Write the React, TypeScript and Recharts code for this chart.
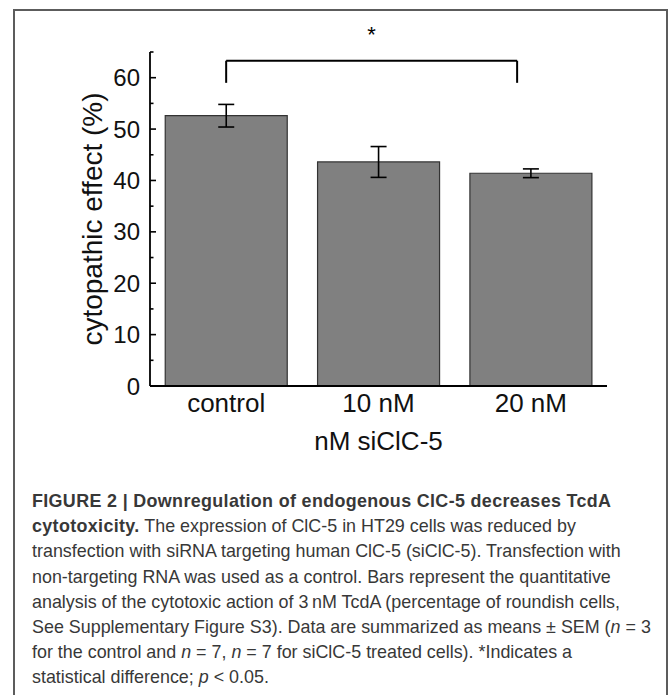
import { Bar, BarChart, ErrorBar, ReferenceLine, XAxis, YAxis } from 'recharts';

const CATEGORIES = ['control', '10 nM', '20 nM'];
const CPE = [52.6, 43.6, 41.4];
const SEM = [2.2, 3.0, 0.85];
const Y_TICKS = [0, 5, 10, 15, 20, 25, 30, 35, 40, 45, 50, 55, 60, 65];
// significance bracket, x in category units (0.5 = centre of first bar)
const BRACKET = { from: 0.5, to: 2.41, top: 63.3, foot: 59.0, mark: '*' };

const data = CATEGORIES.map((name, i) => ({ name, slot: i + 0.5, cpe: CPE[i], sem: SEM[i] }));

const FONT = '"Liberation Sans", Arial, sans-serif';
const MARGIN = { top: 52, right: 62, left: 0, bottom: 0 };
const Y_AXIS_WIDTH = 150;
const AXIS_X = MARGIN.left + Y_AXIS_WIDTH;

function YTick({ y, payload }: { y?: number; payload?: { value: number } }) {
  const v = payload?.value ?? 0;
  const major = v % 10 === 0;
  return (
    <g>
      <line x1={AXIS_X} x2={AXIS_X + (major ? 6 : 3.5)} y1={y} y2={y} stroke="#000" strokeWidth={1.6} />
      {major && (
        <text x={AXIS_X - 10} y={y} dy="0.36em" textAnchor="end" fontSize={24} fill="#111" fontFamily={FONT}>
          {v}
        </text>
      )}
    </g>
  );
}

const CAPTION_LINES = [
  <><b style={{ letterSpacing: 0.35 }}>FIGURE 2 | Downregulation of endogenous ClC-5 decreases TcdA</b></>,
  <><b style={{ letterSpacing: 0.35 }}>cytotoxicity.</b> The expression of ClC-5 in HT29 cells was reduced by</>,
  <>transfection with siRNA targeting human ClC-5 (siClC-5). Transfection with</>,
  <>non-targeting RNA was used as a control. Bars represent the quantitative</>,
  <>analysis of the cytotoxic action of 3{'\u2009'}nM TcdA (percentage of roundish cells,</>,
  <>See Supplementary Figure S3). Data are summarized as means ± SEM (<i>n</i> = 3</>,
  <>for the control and <i>n</i> = 7, <i>n</i> = 7 for siClC-5 treated cells). *Indicates a</>,
  <>statistical difference; <i>p</i> &lt; 0.05.</>,
];

export default function App() {
  return (
    <div style={{ position: 'absolute', left: 0, top: 0, width: 669, height: 695, overflow: 'hidden', background: '#fff' }}>
      <div
        style={{
          position: 'absolute',
          left: 13,
          top: 9,
          width: 651,
          height: 720,
          border: '2px solid #5c5c5c',
        }}
      />
      <div style={{ position: 'absolute', left: 0, top: 0 }}>
        <BarChart width={669} height={470} data={data} margin={MARGIN} barCategoryGap="10%">
          <XAxis
            dataKey="name"
            tickLine={false}
            tickSize={0}
            tickMargin={8}
            height={84}
            axisLine={{ stroke: '#000', strokeWidth: 1.8 }}
            tick={{ fontSize: 26, fill: '#111', fontFamily: FONT }}
            label={{ value: 'nM siClC-5', position: 'insideBottom', offset: 20, fontSize: 26, fill: '#111', fontFamily: FONT }}
          />
          <XAxis xAxisId="pos" dataKey="slot" type="number" domain={[0, 3]} allowDataOverflow hide />
          <YAxis
            width={Y_AXIS_WIDTH}
            domain={[0, 65]}
            ticks={Y_TICKS}
            interval={0}
            tickLine={false}
            axisLine={{ stroke: '#000', strokeWidth: 1.8 }}
            tick={<YTick />}
            label={{
              value: 'cytopathic effect (%)',
              angle: -90,
              position: 'insideLeft',
              offset: 92,
              style: { textAnchor: 'middle' },
              fontSize: 28,
              fill: '#111',
              fontFamily: FONT,
            }}
          />
          <Bar dataKey="cpe" fill="#808080" stroke="#333" strokeWidth={1.2} isAnimationActive={false}>
            <ErrorBar dataKey="sem" width={8} stroke="#000" strokeWidth={1.6} />
          </Bar>
          <ReferenceLine
            xAxisId="pos"
            ifOverflow="visible"
            segment={[{ x: BRACKET.from, y: BRACKET.foot }, { x: BRACKET.from, y: BRACKET.top }]}
            stroke="#000"
            strokeWidth={2}
          />
          <ReferenceLine
            xAxisId="pos"
            ifOverflow="visible"
            segment={[{ x: BRACKET.to, y: BRACKET.foot }, { x: BRACKET.to, y: BRACKET.top }]}
            stroke="#000"
            strokeWidth={2}
          />
          <ReferenceLine
            xAxisId="pos"
            ifOverflow="visible"
            segment={[{ x: BRACKET.from, y: BRACKET.top }, { x: BRACKET.to, y: BRACKET.top }]}
            stroke="#000"
            strokeWidth={2}
            label={{ value: BRACKET.mark, position: 'top', offset: 19, fontSize: 22, fill: '#000', fontFamily: FONT }}
          />
        </BarChart>
      </div>
      <div
        style={{
          position: 'absolute',
          left: 32,
          top: 489,
          fontFamily: FONT,
          fontSize: 17.9,
          lineHeight: '25.2px',
          color: '#383838',
          whiteSpace: 'nowrap',
        }}
      >
        {CAPTION_LINES.map((line, i) => (
          <div key={i} style={{ height: 25.2 }}>{line}</div>
        ))}
      </div>
    </div>
  );
}
